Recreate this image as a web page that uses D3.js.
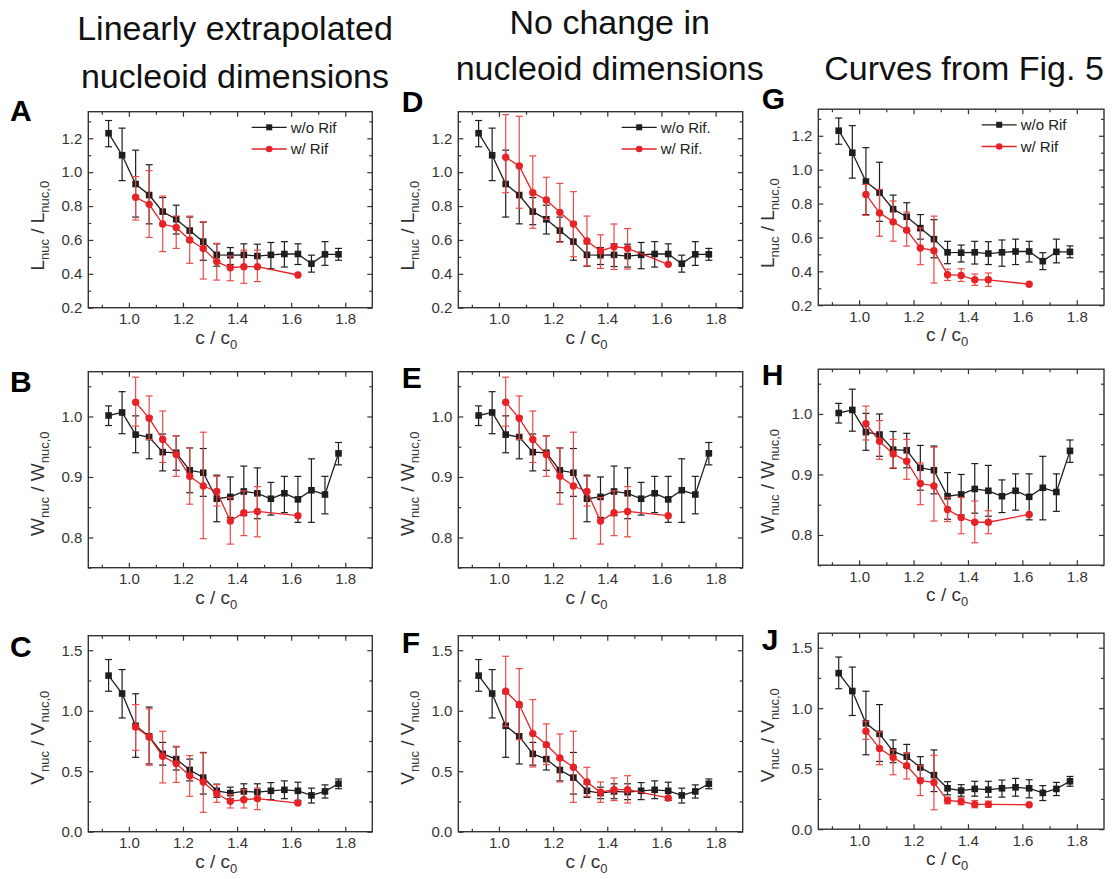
<!DOCTYPE html>
<meta charset="utf-8">
<style>
body { margin: 0; background: #fff; }
svg { display: block; background: #fff; }
text { font-family: "Liberation Sans", Arial, Helvetica, sans-serif; fill: #333; }
.title { font-size: 34px; fill: #111; }
.letter { font-size: 30px; font-weight: bold; fill: #000; }
.frame { fill: none; stroke: #333; stroke-width: 1.4px; }
.axis line { stroke: #333; stroke-width: 1.2px; }
.axis text { font-size: 15px; fill: #333; }
.line { fill: none; stroke-width: 1.3px; }
</style>
<body>
<script src="https://d3js.org/d3.v7.min.js"></script>
<script>

// concentration ratio c / c0 of the bins
let cBlack = [0.925, 0.975, 1.025, 1.075, 1.125, 1.175, 1.225, 1.275, 1.325, 1.375,
              1.425, 1.475, 1.525, 1.575, 1.625, 1.675, 1.725, 1.775];
let cRed = [1.025, 1.075, 1.125, 1.175, 1.225, 1.275, 1.325, 1.375, 1.425, 1.475, 1.625];

// w/o Rif (same in all three columns)
let lBlack   = [1.23, 1.10, 0.93, 0.865, 0.767, 0.722, 0.655, 0.59, 0.512, 0.51, 0.512, 0.505, 0.512, 0.517, 0.517, 0.46, 0.515, 0.515];
let lBlackLo = [1.15, 0.95, 0.735, 0.695, 0.69, 0.635, 0.59, 0.48, 0.445, 0.455, 0.443, 0.44, 0.43, 0.44, 0.455, 0.41, 0.45, 0.48];
let lBlackHi = [1.305, 1.26, 1.13, 1.044, 0.85, 0.805, 0.735, 0.705, 0.577, 0.555, 0.577, 0.575, 0.585, 0.59, 0.577, 0.51, 0.59, 0.55];

let wBlack   = [1.0016, 1.0066, 0.97, 0.966, 0.941, 0.94, 0.911, 0.907, 0.864, 0.867, 0.876, 0.873, 0.864, 0.873, 0.863, 0.878, 0.871, 0.939];
let wBlackLo = [0.985, 0.9715, 0.94, 0.93, 0.91, 0.911, 0.874, 0.868, 0.826, 0.833, 0.836, 0.831, 0.837, 0.841, 0.825, 0.825, 0.839, 0.92];
let wBlackHi = [1.0175, 1.041, 1.001, 1.0, 0.971, 0.968, 0.948, 0.947, 0.903, 0.9, 0.918, 0.915, 0.891, 0.901, 0.901, 0.93, 0.901, 0.957];

let vBlack   = [1.29, 1.142, 0.875, 0.788, 0.643, 0.6, 0.51, 0.447, 0.338, 0.319, 0.333, 0.327, 0.338, 0.346, 0.338, 0.3, 0.333, 0.396];
let vBlackLo = [1.161, 0.94, 0.615, 0.56, 0.55, 0.51, 0.42, 0.311, 0.284, 0.273, 0.273, 0.265, 0.265, 0.273, 0.259, 0.237, 0.278, 0.355];
let vBlackHi = [1.423, 1.34, 1.14, 1.03, 0.738, 0.701, 0.6, 0.655, 0.393, 0.368, 0.396, 0.396, 0.406, 0.42, 0.409, 0.36, 0.387, 0.436];

// w/ Rif, column 1 (linearly extrapolated)
let lRedA   = [0.852, 0.81, 0.694, 0.674, 0.60, 0.55, 0.472, 0.436, 0.442, 0.442, 0.393];
let lRedALo = [0.718, 0.615, 0.531, 0.55, 0.462, 0.369, 0.363, 0.359, 0.344, 0.354, null];
let lRedAHi = [0.974, 1.009, 0.859, 0.741, 0.741, 0.708, 0.58, 0.505, 0.54, 0.54, null];

let wRedB   = [1.0236, 0.997, 0.962, 0.937, 0.901, 0.885, 0.876, 0.827, 0.841, 0.843, 0.836];
let wRedBLo = [0.984, 0.962, 0.924, 0.901, 0.855, 0.798, 0.852, 0.789, 0.803, 0.801, null];
let wRedBHi = [1.065, 1.034, 1.009, 0.968, 0.948, 0.974, 0.901, 0.866, 0.877, 0.884, null];

let vRedC   = [0.866, 0.783, 0.623, 0.563, 0.463, 0.411, 0.314, 0.251, 0.265, 0.273, 0.237];
let vRedCLo = [0.673, 0.549, 0.403, 0.408, 0.292, 0.16, 0.243, 0.196, 0.196, 0.182, null];
let vRedCHi = [1.051, 1.015, 0.83, 0.706, 0.629, 0.651, 0.389, 0.306, 0.347, 0.361, null];

// w/ Rif, column 2 (no change in nucleoid dimensions)
let lRedD   = [1.088, 1.037, 0.879, 0.836, 0.763, 0.694, 0.594, 0.535, 0.56, 0.55, 0.456];
let lRedDLo = [0.879, 0.787, 0.669, 0.722, 0.586, 0.501, 0.448, 0.432, 0.426, 0.428, null];
let lRedDHi = [1.34, 1.33, 1.096, 0.97, 0.934, 0.885, 0.741, 0.63, 0.694, 0.667, null];

let wRedE   = [1.0236, 0.997, 0.962, 0.937, 0.901, 0.885, 0.876, 0.827, 0.841, 0.843, 0.836];
let wRedELo = [0.984, 0.962, 0.924, 0.901, 0.855, 0.798, 0.852, 0.789, 0.803, 0.801, null];
let wRedEHi = [1.065, 1.034, 1.009, 0.968, 0.948, 0.974, 0.901, 0.866, 0.877, 0.884, null];

let vRedF   = [1.161, 1.051, 0.811, 0.72, 0.61, 0.533, 0.411, 0.326, 0.347, 0.347, 0.279];
let vRedFLo = [0.871, 0.761, 0.535, 0.555, 0.411, 0.243, 0.292, 0.243, 0.257, 0.237, null];
let vRedFHi = [1.45, 1.348, 1.092, 0.891, 0.808, 0.83, 0.532, 0.411, 0.444, 0.463, null];

// w/ Rif, column 3 (curves from Fig. 5)
let lRedG   = [0.854, 0.745, 0.692, 0.643, 0.538, 0.522, 0.38, 0.376, 0.35, 0.35, 0.324];
let lRedGLo = [0.73, 0.607, 0.578, 0.549, 0.439, 0.331, 0.346, 0.34, 0.317, 0.311, null];
let lRedGHi = [0.913, 0.884, 0.815, 0.75, 0.656, 0.726, 0.413, 0.415, 0.384, 0.39, null];

let wRedH   = [0.984, 0.955, 0.934, 0.922, 0.885, 0.881, 0.842, 0.829, 0.821, 0.821, 0.834];
let wRedHLo = [0.957, 0.925, 0.911, 0.892, 0.85, 0.823, 0.822, 0.802, 0.787, 0.802, null];
let wRedHHi = [1.013, 0.989, 0.958, 0.958, 0.919, 0.945, 0.862, 0.862, 0.856, 0.84, null];

let vRedJ   = [0.81, 0.668, 0.592, 0.524, 0.401, 0.387, 0.237, 0.229, 0.205, 0.205, 0.202];
let vRedJLo = [0.742, 0.532, 0.45, 0.415, 0.278, 0.161, 0.21, 0.202, 0.177, 0.183, null];
let vRedJHi = [0.892, 0.805, 0.655, 0.633, 0.524, 0.611, 0.265, 0.259, 0.237, 0.232, null];

// ticks
let xMajor = [1.0, 1.2, 1.4, 1.6, 1.8];
let xMinor = [0.9, 1.1, 1.3, 1.5, 1.7];
let lMajor = [0.2, 0.4, 0.6, 0.8, 1.0, 1.2];
let lMinor = [0.3, 0.5, 0.7, 0.9, 1.1, 1.3];
let wMajor = [0.8, 0.9, 1.0];
let wMinor = [0.75, 0.85, 0.95, 1.05];
let vMajor = [0.0, 0.5, 1.0, 1.5];
let vMinor = [0.25, 0.75, 1.25];

let titles = [["Linearly extrapolated", "nucleoid dimensions"],
              ["No change in", "nucleoid dimensions"],
              ["Curves from Fig. 5"]];
let legendLabels = [["w/o Rif", "w/ Rif"], ["w/o Rif.", "w/ Rif."], ["w/o Rif", "w/ Rif"]];

// layout
let cols = [{x0: 88.3, w: 284, dy: 0, lx: -78.3},
            {x0: 458.3, w: 284.4, dy: 0, lx: -56.6},
            {x0: 818.3, w: 285.7, dy: -2.5, lx: -56.6}];
let rows = [{y0: 111.7, q: "L", domain: [0.2, 1.357], major: lMajor, minor: lMinor, labOff: 16},
            {y0: 371.7, q: "W", domain: [0.75, 1.074], major: wMajor, minor: wMinor, labOff: 14},
            {y0: 635.7, q: "V", domain: [0, 1.62], major: vMajor, minor: vMinor, labOff: 4}];
let panelH = 196;
let letterBase = [[9, 20, 21], [0, 16, 17], [0, 16, 17]];

let black = "#1e1e1e", red = "#e62227", redBar = "#ec4a4a";

let panels = [
    {letter: "A", c: 0, r: 0, blk: [lBlack, lBlackLo, lBlackHi], rd: [lRedA, lRedALo, lRedAHi]},
    {letter: "B", c: 0, r: 1, blk: [wBlack, wBlackLo, wBlackHi], rd: [wRedB, wRedBLo, wRedBHi]},
    {letter: "C", c: 0, r: 2, blk: [vBlack, vBlackLo, vBlackHi], rd: [vRedC, vRedCLo, vRedCHi]},
    {letter: "D", c: 1, r: 0, blk: [lBlack, lBlackLo, lBlackHi], rd: [lRedD, lRedDLo, lRedDHi]},
    {letter: "E", c: 1, r: 1, blk: [wBlack, wBlackLo, wBlackHi], rd: [wRedE, wRedELo, wRedEHi]},
    {letter: "F", c: 1, r: 2, blk: [vBlack, vBlackLo, vBlackHi], rd: [vRedF, vRedFLo, vRedFHi]},
    {letter: "G", c: 2, r: 0, blk: [lBlack, lBlackLo, lBlackHi], rd: [lRedG, lRedGLo, lRedGHi]},
    {letter: "H", c: 2, r: 1, blk: [wBlack, wBlackLo, wBlackHi], rd: [wRedH, wRedHLo, wRedHHi]},
    {letter: "J", c: 2, r: 2, blk: [vBlack, vBlackLo, vBlackHi], rd: [vRedJ, vRedJLo, vRedJHi]}
];

let svg = d3.select("body").append("svg")
    .attr("width", 1117)
    .attr("height", 879);

// column titles
let titlePos = [{x: 235, y: [40, 87.5]}, {x: 609.7, y: [34, 80.4]}, {x: 964, y: [80.4]}];
titles.forEach(function (lines, i) {
    lines.forEach(function (s, j) {
        svg.append("text")
            .attr("class", "title")
            .attr("x", titlePos[i].x)
            .attr("y", titlePos[i].y[j])
            .attr("text-anchor", "middle")
            .text(s);
    });
});

function toPoints(cs, v, lo, hi) {
    return cs.map(function (c, i) { return {c: c, v: v[i], lo: lo[i], hi: hi[i]}; });
}

panels.forEach(function (p) {
    let col = cols[p.c], row = rows[p.r];
    let x0 = col.x0, y0 = row.y0 + col.dy, w = col.w, h = panelH;

    let x = d3.scaleLinear().domain([0.85, 1.9]).range([0, w]);
    let y = d3.scaleLinear().domain(row.domain).range([h, 0]);

    let g = svg.append("g").attr("transform", "translate(" + x0 + "," + y0 + ")");

    // axes with inward ticks on all four sides
    function addAxis(axis, tx, ty) {
        let a = g.append("g").attr("class", "axis")
            .attr("transform", "translate(" + tx + "," + ty + ")")
            .call(axis);
        a.select(".domain").remove();
        a.attr("font-family", null).attr("font-size", null);
        return a;
    }
    let fmt = d3.format(".1f");
    addAxis(d3.axisBottom(x).tickValues(xMajor).tickSizeInner(-5).tickSizeOuter(0).tickPadding(6).tickFormat(fmt), 0, h);
    addAxis(d3.axisBottom(x).tickValues(xMinor).tickSizeInner(-3).tickSizeOuter(0).tickFormat(""), 0, h);
    addAxis(d3.axisTop(x).tickValues(xMajor).tickSizeInner(-5).tickSizeOuter(0).tickFormat(""), 0, 0);
    addAxis(d3.axisTop(x).tickValues(xMinor).tickSizeInner(-3).tickSizeOuter(0).tickFormat(""), 0, 0);
    addAxis(d3.axisLeft(y).tickValues(row.major).tickSizeInner(-5).tickSizeOuter(0).tickPadding(6).tickFormat(fmt), 0, 0);
    addAxis(d3.axisLeft(y).tickValues(row.minor).tickSizeInner(-3).tickSizeOuter(0).tickFormat(""), 0, 0);
    addAxis(d3.axisRight(y).tickValues(row.major).tickSizeInner(-5).tickSizeOuter(0).tickFormat(""), w, 0);
    addAxis(d3.axisRight(y).tickValues(row.minor).tickSizeInner(-3).tickSizeOuter(0).tickFormat(""), w, 0);

    g.append("rect").attr("class", "frame")
        .attr("x", 0).attr("y", 0).attr("width", w).attr("height", h);

    // x label  c / c0
    let xl = g.append("text")
        .attr("x", w / 2 - 14).attr("y", h + 36)
        .attr("text-anchor", "middle")
        .style("font-size", "19px");
    xl.append("tspan").text("c / c");
    xl.append("tspan").attr("dy", 5).style("font-size", "13px").text("0");

    // y label
    let yl = g.append("text")
        .attr("transform", "translate(-44," + (h / 2 + row.labOff) + ") rotate(-90)")
        .attr("text-anchor", "middle")
        .style("font-size", "19px")
        .style("white-space", "pre");
    yl.append("tspan").text(row.q);
    yl.append("tspan").attr("dy", 5).style("font-size", "13px").text("nuc");
    yl.append("tspan").attr("dy", -5).text(" / " + row.q);
    yl.append("tspan").attr("dy", 5).style("font-size", "13px").text("nuc,0");

    // panel letter
    svg.append("text").attr("class", "letter")
        .attr("x", x0 + col.lx)
        .attr("y", row.y0 + col.dy + letterBase[p.c][p.r])
        .text(p.letter);

    let line = d3.line()
        .x(function (d) { return x(d.c); })
        .y(function (d) { return y(d.v); });

    function drawSeries(data, color, barColor, isSquare) {
        let withErr = data.filter(function (d) { return d.lo != null; });
        let bars = g.append("g").attr("stroke", barColor).attr("stroke-width", 1.2);
        withErr.forEach(function (d) {
            let cx = x(d.c);
            bars.append("line").attr("x1", cx).attr("x2", cx).attr("y1", y(d.lo)).attr("y2", y(d.hi));
            bars.append("line").attr("x1", cx - 3.5).attr("x2", cx + 3.5).attr("y1", y(d.lo)).attr("y2", y(d.lo));
            bars.append("line").attr("x1", cx - 3.5).attr("x2", cx + 3.5).attr("y1", y(d.hi)).attr("y2", y(d.hi));
        });
        g.append("path").datum(data).attr("class", "line").attr("stroke", color).attr("d", line);
        if (isSquare) {
            g.selectAll(null).data(data).enter().append("rect")
                .attr("x", function (d) { return x(d.c) - 3.3; })
                .attr("y", function (d) { return y(d.v) - 3.3; })
                .attr("width", 6.6).attr("height", 6.6)
                .attr("fill", color);
        } else {
            g.selectAll(null).data(data).enter().append("circle")
                .attr("cx", function (d) { return x(d.c); })
                .attr("cy", function (d) { return y(d.v); })
                .attr("r", 3.7)
                .attr("fill", color);
        }
    }

    drawSeries(toPoints(cBlack, p.blk[0], p.blk[1], p.blk[2]), black, black, true);
    drawSeries(toPoints(cRed, p.rd[0], p.rd[1], p.rd[2]), red, redBar, false);

    // legend only in the top row
    if (p.r === 0) {
        let labels = legendLabels[p.c];
        let items = [{lab: labels[0], col: black, sq: true, dy: 15.6}, {lab: labels[1], col: red, sq: false, dy: 37.3}];
        items.forEach(function (it) {
            let lg = g.append("g").attr("transform", "translate(163.4," + it.dy + ")");
            lg.append("line").attr("x1", 0).attr("x2", 35).attr("y1", 0).attr("y2", 0)
                .attr("stroke", it.col).attr("stroke-width", 1.3);
            if (it.sq) {
                lg.append("rect").attr("x", 17.5 - 3).attr("y", -3).attr("width", 6).attr("height", 6).attr("fill", it.col);
            } else {
                lg.append("circle").attr("cx", 17.5).attr("cy", 0).attr("r", 3.3).attr("fill", it.col);
            }
            lg.append("text").attr("x", 39).attr("y", 0).attr("dy", "0.36em")
                .style("font-size", "15px").style("fill", "#222")
                .text(it.lab);
        });
    }
});

</script>
</body>
